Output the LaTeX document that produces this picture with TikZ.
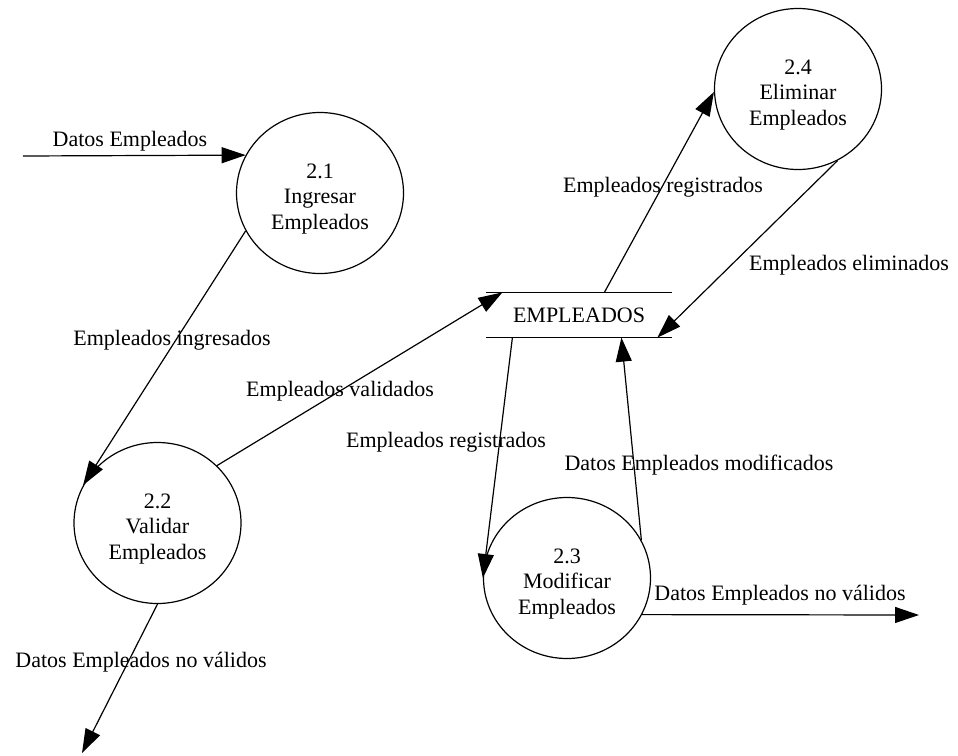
\documentclass[tikz,border=0pt]{standalone}
\usepackage{fontspec}
\setmainfont{Liberation Serif}
\usetikzlibrary{arrows.meta,shapes.geometric,calc}
\begin{document}
\begin{tikzpicture}[x=1pt,y=-1pt,line width=1.2pt,
  proc/.style={ellipse,draw,minimum width=167pt,minimum height=161pt,inner sep=0pt},
  ptext/.style={inner sep=0pt,align=center,font=\fontsize{22}{25.5}\selectfont},
  lbl/.style={inner sep=0pt,font=\fontsize{22}{25}\selectfont},
  flow/.style={-{Triangle[length=24pt,width=16pt]}}]
\useasboundingbox (0,0) rectangle (958,755);
% processes
\node[proc] (p21) at (320,193) {};
\node[proc] (p22) at (157.5,523) {};
\node[proc] (p23) at (567,578) {};
\node[proc] (p24) at (798,89) {};
\node[ptext] (t21) at ($(p21)+(0,6)$) {2.1\\Ingresar\\Empleados};
\node[ptext] (t22) at ($(p22)+(0,6)$) {2.2\\Validar\\Empleados};
\node[ptext] (t23) at ($(p23)+(0,6)$) {2.3\\Modificar\\Empleados};
\node[ptext] (t24) at ($(p24)+(0,6)$) {2.4\\Eliminar\\Empleados};
% data store
\node[inner sep=0pt,minimum width=184pt,minimum height=44pt,font=\fontsize{22}{25}\selectfont] (st) at (579,315) {EMPLEADOS};
\draw (st.north west) -- (st.north east) (st.south west) -- (st.south east);
\coordinate (s1) at ($(st.north west)+(16,0)$);
\coordinate (s2) at ($(st.north west)+(118,0)$);
\coordinate (s3) at ($(st.south west)+(171,0)$);
\coordinate (s4) at ($(st.south west)+(26,0)$);
\coordinate (s5) at ($(st.south west)+(135,0)$);
% free ends
\coordinate (in) at (23,156);
\coordinate (out2) at (82,753);
\coordinate (out3) at (919,615);
% flows
\draw[flow] (in) -- (p21.153);
\draw[flow] (p21.207) -- (p22.153);
\draw[flow] (p22.44) -- (s1);
\draw[flow] (p22.270) -- (out2);
\draw[flow] (s2) -- (p24.182);
\draw[flow] (p24.299) -- (s3);
\draw[flow] (s4) -- (p23.180);
\draw[flow] (p23.27) -- (s5);
\draw[flow] (p23.334) -- (out3);
% labels
\node[lbl] (l1) at (130,141) {Datos Empleados};
\node[lbl] (l2) at (172,340) {Empleados ingresados};
\node[lbl] (l3) at (340,391) {Empleados validados};
\node[lbl] (l4) at (663,187) {Empleados registrados};
\node[lbl] (l5) at (849,265) {Empleados eliminados};
\node[lbl] (l6) at (446,442) {Empleados registrados};
\node[lbl] (l7) at (699,465) {Datos Empleados modificados};
\node[lbl] (l8) at (780,595) {Datos Empleados no válidos};
\node[lbl] (l9) at (141,662) {Datos Empleados no válidos};
\end{tikzpicture}
\end{document}
